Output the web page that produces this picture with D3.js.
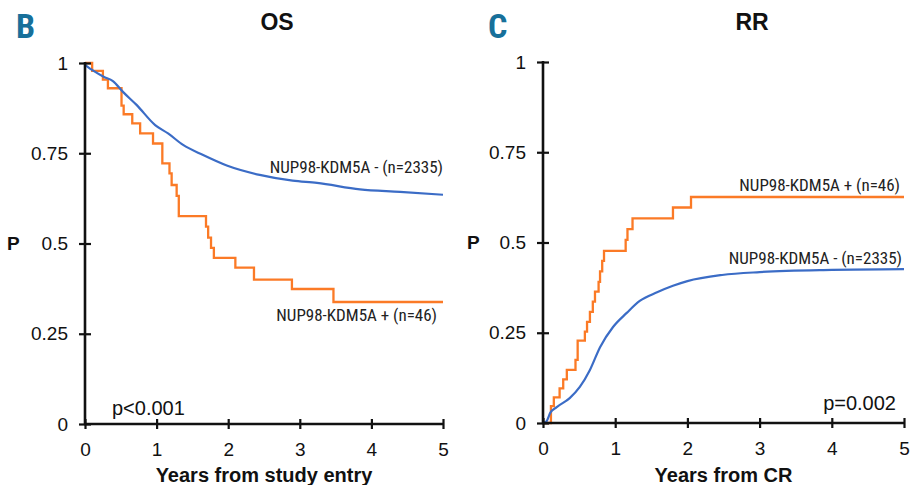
<!DOCTYPE html>
<html>
<head>
<meta charset="utf-8">
<script src="https://cdn.jsdelivr.net/npm/d3@7"></script>
<style>
  body { margin: 0; background: #fff; }
  text { font-family: "Liberation Sans", Arial, sans-serif; fill: #111; }
  .narrow { font-family: "Liberation Sans Narrow", "Roboto Condensed", "DejaVu Sans Condensed", sans-serif; }
</style>
</head>
<body>
<script>
let width = 913,
    height = 485;

// OS, years from study entry
let osNegT = [0, 0.12, 0.26, 0.39, 0.53, 0.72, 0.98, 1.16, 1.37, 1.65, 1.98, 2.44, 2.9, 3.24, 3.84, 4.4, 5];
let osNegP = [0.995, 0.978, 0.962, 0.95, 0.92, 0.884, 0.828, 0.805, 0.773, 0.745, 0.716, 0.69, 0.674, 0.668, 0.65, 0.643, 0.635];
let osPosT = [0, 0.1, 0.25, 0.32, 0.51, 0.54, 0.66, 0.77, 0.95, 1.08, 1.18, 1.21, 1.28, 1.31, 1.69, 1.72, 1.76, 1.8, 2.1, 2.36, 2.89, 3.47, 5];
let osPosP = [1, 0.978, 0.954, 0.93, 0.882, 0.858, 0.833, 0.805, 0.777, 0.722, 0.694, 0.662, 0.632, 0.576, 0.547, 0.516, 0.488, 0.46, 0.433, 0.40, 0.374, 0.338, 0.338];

// RR, years from CR
let rrNegT = [0, 0.05, 0.1, 0.19, 0.37, 0.51, 0.65, 0.79, 0.97, 1.16, 1.34, 1.58, 1.8, 2.0, 2.48, 3, 4, 5];
let rrNegP = [0, 0.005, 0.028, 0.044, 0.069, 0.1, 0.147, 0.21, 0.266, 0.305, 0.338, 0.362, 0.38, 0.393, 0.41, 0.418, 0.424, 0.426];
let rrPosT = [0, 0.11, 0.15, 0.23, 0.28, 0.33, 0.45, 0.48, 0.58, 0.61, 0.65, 0.69, 0.72, 0.77, 0.79, 0.82, 0.845, 1.145, 1.17, 1.24, 1.80, 2.05, 5];
let rrPosP = [0, 0.047, 0.071, 0.096, 0.121, 0.147, 0.175, 0.228, 0.253, 0.28, 0.308, 0.336, 0.364, 0.391, 0.42, 0.449, 0.477, 0.507, 0.537, 0.567, 0.597, 0.626, 0.626];

let xTicks = [0, 1, 2, 3, 4, 5];
let yTicks = [0, 0.25, 0.5, 0.75, 1];

let blue = "#3b6cc6",
    orange = "#fb7a26";

let svg = d3.select("body").append("svg")
    .attr("width", width)
    .attr("height", height);

function zip(ts, ps) {
    return ts.map((t, i) => ({t: t, p: ps[i]}));
}

function panel(o) {
    let x = d3.scaleLinear().domain([0, 5]).range([o.x0, o.x1]);
    let y = d3.scaleLinear().domain([0, 1]).range([o.y0, o.y1]);
    let g = svg.append("g");

    // curves
    let smooth = d3.line().x(d => x(d.t)).y(d => y(d.p)).curve(d3.curveMonotoneX);
    let step = d3.line().x(d => x(d.t)).y(d => y(d.p)).curve(d3.curveStepAfter);

    g.append("path")
        .attr("d", step(zip(o.posT, o.posP)))
        .attr("fill", "none")
        .attr("stroke", orange)
        .attr("stroke-width", 2.3);
    g.append("path")
        .attr("d", smooth(zip(o.negT, o.negP)))
        .attr("fill", "none")
        .attr("stroke", blue)
        .attr("stroke-width", 2.2);

    // axes, ticks cross the axis line
    let ya = g.append("g")
        .attr("transform", "translate(" + o.x0 + ",0)")
        .call(d3.axisLeft(y).tickValues(yTicks).tickSize(6).tickPadding(11).tickFormat(d => d));
    ya.selectAll(".tick line").attr("x1", 6).attr("x2", -6);

    let xa = g.append("g")
        .attr("transform", "translate(0," + o.y0 + ")")
        .call(d3.axisBottom(x).tickValues(xTicks).tickSize(5).tickPadding(13).tickFormat(d => d));
    xa.selectAll(".tick line").attr("y1", -5).attr("y2", 5);

    [ya, xa].forEach(a => {
        a.select(".domain").remove();
        a.selectAll(".tick line").attr("stroke", "#111").attr("stroke-width", 2.2);
        a.selectAll(".tick text").attr("font-size", 19).attr("fill", "#111")
            .attr("font-family", "Liberation Sans, Arial, sans-serif");
    });
    xa.selectAll(".tick text").attr("dy", "0.75em");

    g.append("line")
        .attr("x1", o.x0).attr("x2", o.x0)
        .attr("y1", y(1) - 1).attr("y2", y(0) + 1)
        .attr("stroke", "#111").attr("stroke-width", 2.6);
    g.append("line")
        .attr("x1", o.x0 - 1).attr("x2", x(5) + 1)
        .attr("y1", o.y0).attr("y2", o.y0)
        .attr("stroke", "#111").attr("stroke-width", 2.6);

    // texts
    g.append("text")
        .attr("class", "narrow")
        .attr("x", o.letterX).attr("y", 38)
        .attr("font-size", 34).attr("font-weight", "bold")
        .style("fill", "#17709a")
        .text(o.letter);
    g.append("text")
        .attr("x", o.titleX).attr("y", 30)
        .attr("text-anchor", "middle")
        .attr("font-size", 23).attr("font-weight", "bold")
        .text(o.title);
    g.append("text")
        .attr("x", o.pX).attr("y", y(0.5) + 6)
        .attr("font-size", 19).attr("font-weight", "bold")
        .text("P");
    g.append("text")
        .attr("x", (o.x0 + o.x1) / 2).attr("y", 482)
        .attr("text-anchor", "middle")
        .attr("font-size", 20).attr("font-weight", "bold")
        .text(o.xLabel);
    g.append("text")
        .attr("x", o.statX).attr("y", o.statY)
        .attr("text-anchor", o.statAnchor)
        .attr("font-size", 20)
        .text(o.stat);

    o.labels.forEach(l => {
        g.append("text")
            .attr("class", "narrow")
            .attr("x", l.x).attr("y", l.y)
            .attr("text-anchor", "end")
            .attr("font-size", 17)
            .style("fill", "#222")
            .text(l.text);
    });
}

panel({
    x0: 85, x1: 443, y0: 424, y1: 63,
    negT: osNegT, negP: osNegP, posT: osPosT, posP: osPosP,
    letter: "B", letterX: 16, title: "OS", titleX: 277, pX: 7,
    xLabel: "Years from study entry",
    stat: "p<0.001", statX: 112, statY: 415, statAnchor: "start",
    labels: [
        {text: "NUP98-KDM5A - (n=2335)", x: 443, y: 173},
        {text: "NUP98-KDM5A + (n=46)", x: 437, y: 321}
    ]
});

panel({
    x0: 543, x1: 904, y0: 423, y1: 62,
    negT: rrNegT, negP: rrNegP, posT: rrPosT, posP: rrPosP,
    letter: "C", letterX: 488, title: "RR", titleX: 752, pX: 467,
    xLabel: "Years from CR",
    stat: "p=0.002", statX: 896, statY: 410, statAnchor: "end",
    labels: [
        {text: "NUP98-KDM5A + (n=46)", x: 900, y: 191},
        {text: "NUP98-KDM5A - (n=2335)", x: 902, y: 264}
    ]
});
</script>
</body>
</html>
